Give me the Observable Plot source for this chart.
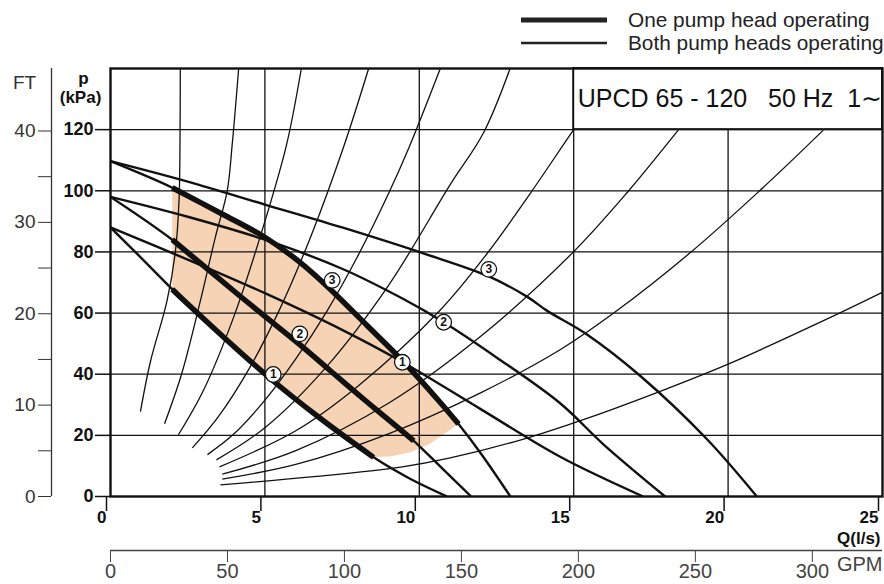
<!DOCTYPE html>
<html><head><meta charset="utf-8">
<script src="https://cdn.jsdelivr.net/npm/d3@7"></script>
<script src="https://cdn.jsdelivr.net/npm/@observablehq/plot@0.6"></script>
<style>
body{margin:0;background:#fff;}
#wrap{width:884px;font-family:"Liberation Sans",Arial,sans-serif;}
</style></head><body><div id="wrap"></div>
<script>
// ---- axes / ticks ----
const qTicks = [0, 5, 10, 15, 20, 25];           // Q (l/s)
const pTicks = [0, 20, 40, 60, 80, 100, 120];    // p (kPa)
const ftTicks = [0, 5, 10, 15, 20, 25, 30, 35, 40];
const ftLabels = [0, 10, 20, 30, 40];
const gpmTicks = [0, 50, 100, 150, 200, 250, 300];
const KPA_PER_FT = 2.989, GPM_PER_LS = 13.2;
const gridQ = [5, 10, 15, 20];
const gridP = [20, 40, 60, 80, 100, 120];
const boxQ = [15, 25], boxP = [120, 140];
const title = "UPCD 65 - 120\u00a0\u00a0\u00a050 Hz\u00a0\u00a01\u223c";
const legendItems = ["One pump head operating", "Both pump heads operating"];

// ---- pump curves: one pump head (thick in operating range) ----
const one3 = [[0,109.7],[1,105.5],[2,101],[3.6,92.5],[5,84.8],[6.15,76.5],[7.2,67],[8.3,56],[9.3,46],[10,38.5],[10.7,30.5],[11.27,23.7],[12,14],[12.95,0]];
const one2 = [[0,98],[2,84],[4.2,65.5],[5.3,56.5],[6.15,49.5],[7.1,41.3],[8.3,31],[9.4,21.8],[9.82,18.2],[10.7,9.6],[11.68,0]];
const one1 = [[0,88],[1,78],[2,67.8],[2.37,64.2],[5.07,39.5],[6.8,25.5],[8.52,12.8],[9.7,5.8],[10.9,0]];
const thickFrom = 2;
const thickTo = [11.27, 9.82, 8.52];
// ---- pump curves: both pump heads ----
const both3 = [[0,109.7],[2.5,103],[5,95.5],[7.5,88],[10.2,79.3],[12.25,72],[13.5,65.3],[14.13,60.8],[15.43,53],[17.15,39.5],[19.31,18.8],[20.93,0]];
const both2 = [[0,98],[2.5,91.5],[5,84],[7.5,74.5],[9.5,64.5],[10.79,57],[12.5,45.5],[14.56,30.5],[15.97,17],[17.96,0]];
const both1 = [[0,88],[2.5,77.5],[5,66.5],[7.5,54.5],[9.45,44],[12,28.5],[14.56,13],[17.25,0]];
// ---- system curves (fan) ----
const fan1 = [[3.56,3.8],[6.5,6.4],[9.4,9.6],[11,12.6],[13.38,18.8],[15.5,25.8],[17.8,34.4],[20,43.3],[23.4,59],[25,66.8]];
const fan2 = [[3.62,5.7],[6,10.5],[9,20.5],[12,34],[14.56,48],[16.35,60.4],[18.78,79.8],[21,99.8],[23.1,120],[23.9,128]];
const fan3 = [[3.62,7.3],[6,15],[9,30.5],[12,52.5],[15,80.1],[16.78,100],[18.4,120],[19.2,130]];
const fan4 = [[3.53,9.7],[6,21.5],[8,36],[10.68,61],[12.19,79.4],[13.59,99.1],[15,120],[15.7,130]];
const fan5 = [[3.43,12],[5,22.5],[7,42.5],[9,69],[11,102],[12.08,119],[12.94,140]];
const fan6 = [[3.14,13.7],[4,20.5],[5,31.5],[6,45],[7,60.5],[8,78.5],[9,99],[9.66,114],[10.68,140]];
const fan7 = [[2.65,15.9],[3.5,26.2],[4.5,42],[5.5,61.7],[6.5,85.4],[7.57,115],[8.36,140]];
const fan8 = [[2.2,20.2],[3,34.5],[4,59],[5,90],[5.7,115],[6.18,140]];
const fan9 = [[1.75,23.8],[2.3,40],[2.91,64],[3.4,85],[3.78,100],[3.94,115],[4.15,140]];
const fan10 = [[0.97,27.8],[1.29,44],[1.83,64],[2.1,80],[2.22,97],[2.25,115],[2.26,140]];
const fans = [fan1, fan2, fan3, fan4, fan5, fan6, fan7, fan8, fan9, fan10];
// ---- shaded operating area ----
const shade = [[2,101],[3.6,92.5],[5,84.8],[6.15,76.5],[7.2,67],[8.3,56],[9.3,46],[10,38.5],[10.7,30.5],[11.27,23.7],[10.9,21.1],[10.3,17],[9.71,14.5],[9.1,13.2],[8.52,12.8],[6.8,25.5],[5.07,39.5],[2.37,64.2],[2,67.8]];
// ---- curve labels ----
const labels = [
  {n:"3", q:7.18, p:70.7}, {n:"2", q:6.13, p:53.2}, {n:"1", q:5.27, p:39.9},
  {n:"3", q:12.25, p:74.3}, {n:"2", q:10.79, p:57}, {n:"1", q:9.45, p:43.9}
];

const X = d => d[0], Y = d => d[1];
const INK = "#111";
const line = (data, w, extra = {}) => Plot.line(data, {x: X, y: Y, stroke: INK, strokeWidth: w, curve: "catmull-rom", strokeLinecap: "butt", clip: true, ...extra});

// legend (above the chart)
const legend = document.createElement("div");
legend.innerHTML = `<svg width="884" height="60" style="display:block;font-family:'Liberation Sans',Arial,sans-serif">
  <line x1="521" x2="607" y1="20" y2="20" stroke="#222" stroke-width="5"/>
  <line x1="521" x2="607" y1="43" y2="43" stroke="#222" stroke-width="2.4"/>
  <text x="628" y="27" font-size="20.8" fill="#222">${legendItems[0]}</text>
  <text x="628" y="50" font-size="20.8" fill="#222">${legendItems[1]}</text>
</svg>`;
document.getElementById("wrap").appendChild(legend);

const ones = [one3, one2, one1];
const chart = Plot.plot({
  width: 884, height: 524,
  marginLeft: 110, marginRight: 2, marginTop: 8, marginBottom: 88,
  x: {domain: [0, 25]}, y: {domain: [0, 140]},
  style: {fontFamily: "'Liberation Sans', Arial, sans-serif", background: "white", color: INK, overflow: "visible"},
  marks: [
    Plot.line(shade, {x: X, y: Y, fill: "#f7d3b5", stroke: "none", curve: "linear"}),
    Plot.ruleX(gridQ, {stroke: INK, strokeWidth: 1.3}),
    Plot.ruleY(gridP, {stroke: INK, strokeWidth: 1.3}),
    ...fans.map(f => line(f, 1.3)),
    line(both3, 2.4), line(both2, 2.4), line(both1, 2.4),
    ...ones.map(c => line(c, 2.4)),
    ...ones.map((c, i) => line(c, 5.5, {filter: d => d[0] >= thickFrom && d[0] <= thickTo[i]})),
    Plot.dot(labels, {x: "q", y: "p", r: 7.8, fill: "white", stroke: INK, strokeWidth: 1.3}),
    Plot.text(labels, {x: "q", y: "p", text: "n", fontSize: 12, fontWeight: "bold"}),
    Plot.rect([0], {x1: boxQ[0], x2: boxQ[1], y1: boxP[0], y2: boxP[1], fill: "white", stroke: INK, strokeWidth: 2}),
    Plot.text([title], {x: boxQ[0], y: (boxP[0] + boxP[1]) / 2, dx: 4, textAnchor: "start", fontSize: 25}),
    Plot.frame({stroke: INK, strokeWidth: 2.4}),
    // p (kPa) axis
    Plot.axisY({ticks: pTicks, tickSize: 15, tickPadding: 2, fontSize: 18, fontWeight: "bold", label: null, strokeWidth: 1.5}),
    Plot.text(["p"], {frameAnchor: "top-left", dx: -27, dy: 3, textAnchor: "middle", fontSize: 17, fontWeight: "bold"}),
    Plot.text(["(kPa)"], {frameAnchor: "top-left", dx: -30, dy: 22, textAnchor: "middle", fontSize: 17, fontWeight: "bold"}),
    // FT axis
    Plot.ruleX([0], {y1: 0, y2: 140, dx: -59, stroke: "#333", strokeWidth: 1.3}),
    Plot.axisY({ticks: ftTicks.map(f => f * KPA_PER_FT), tickSize: 13, tickPadding: 3, dx: -59,
      tickFormat: d => { const f = Math.round(d / KPA_PER_FT); return ftLabels.includes(f) ? String(f) : ""; },
      fontSize: 19, fill: "#333", stroke: "#333", label: null}),
    Plot.text(["FT"], {frameAnchor: "top-left", dx: -86, dy: 7, textAnchor: "middle", fontSize: 19, fill: "#333"}),
    // Q axis
    Plot.axisX({ticks: qTicks, tickSize: 15, tickPadding: -1, textAnchor: "end", dx: -4, fontSize: 17, fontWeight: "bold", label: null, strokeWidth: 1.5}),
    Plot.text(["Q(l/s)"], {frameAnchor: "bottom-right", dx: -2, dy: 47, textAnchor: "end", fontSize: 17, fontWeight: "bold"}),
    // GPM axis
    Plot.ruleY([0], {x1: 0, x2: 25, dy: 54, stroke: "#444", strokeWidth: 1.3}),
    Plot.axisX({ticks: gpmTicks.map(g => g / GPM_PER_LS), tickSize: 12, tickPadding: 1, dy: 54,
      tickFormat: d => String(Math.round(d * GPM_PER_LS)), fontSize: 20, fill: "#444", stroke: "#444", label: null}),
    Plot.text(["GPM"], {frameAnchor: "bottom-right", dx: 0, dy: 74, textAnchor: "end", fontSize: 20, fill: "#444"})
  ]
});
document.getElementById("wrap").appendChild(chart);
</script></body></html>
